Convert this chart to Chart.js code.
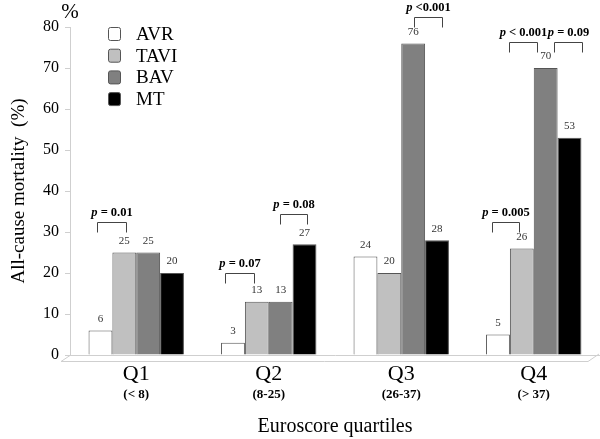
<!DOCTYPE html>
<html lang="en">
<head>
<meta charset="UTF-8">
<title>Mortality by Euroscore quartiles</title>
<script src="https://cdn.jsdelivr.net/npm/chart.js"></script>
<style>
    html, body { margin: 0; padding: 0; background: #fff; }
    #wrap { width: 600px; height: 439px; position: relative; }
</style>
</head>
<body>
<div id="wrap"><canvas id="grafico"></canvas></div>
<script>
// data
const quartis = ['Q1', 'Q2', 'Q3', 'Q4'];
const faixas = ['(< 8)', '(8-25)', '(26-37)', '(> 37)'];
const grupos = ['AVR', 'TAVI', 'BAV', 'MT'];
const avr = [6, 3, 24, 5];
const tavi = [25, 13, 20, 26];
const bav = [25, 13, 76, 70];
const mt = [20, 27, 28, 53];
const yTicks = [0, 10, 20, 30, 40, 50, 60, 70, 80];

// p-value brackets: quartile, bar from, bar to, level (%), text
const pQuartil = [0, 1, 1, 2, 3, 3, 3];
const pDe = [0, 0, 2, 2, 1, 2, 0];
const pAte = [1, 1, 3, 3, 2, 3, 1];
const pNivel = [32.5, 20, 34.5, 82.5, 76.3, 76.3, 32.5];
const pTexto = [' = 0.01', ' = 0.07', ' = 0.08', ' <0.001', ' < 0.001', ' = 0.09', ' = 0.005'];

// estilo
const cores = ['#ffffff', '#c0c0c0', '#808080', '#000000'];
const serif = "'Liberation Serif', 'Times New Roman', serif";
const chaveDx1 = [-3, -8, -1, 1, -13, 8, -6];
const chaveDx2 = [2, -3, 2, 5, -9, 12, -3];

// desenha rotulos, chaves, legenda e piso
const extras = {
    id: 'extras',
    beforeDatasetsDraw(chart) {
        const ctx = chart.ctx;
        const a = chart.chartArea;
        ctx.save();
        ctx.strokeStyle = '#cfcfcf';
        ctx.lineWidth = 1;
        ctx.beginPath();
        ctx.moveTo(a.left, a.bottom + 0.5);
        ctx.lineTo(a.left - 9, a.bottom + 6.5);
        ctx.lineTo(a.right - 12, a.bottom + 6.5);
        ctx.lineTo(a.right - 1, a.bottom - 1);
        ctx.stroke();
        ctx.restore();
    },
    afterDraw(chart) {
        const ctx = chart.ctx;
        const a = chart.chartArea;
        const x = chart.scales.x;
        const y = chart.scales.y;
        ctx.save();

        // valores acima das barras
        ctx.font = '11px ' + serif;
        ctx.fillStyle = '#333';
        ctx.textAlign = 'center';
        ctx.textBaseline = 'bottom';
        chart.data.datasets.forEach((ds, i) => {
            chart.getDatasetMeta(i).data.forEach((bar, j) => {
                ctx.fillText(ds.data[j], bar.x, bar.y - 6);
            });
        });

        // chaves com p
        ctx.strokeStyle = '#444';
        ctx.lineWidth = 1;
        for (let k = 0; k < pQuartil.length; k++) {
            const b1 = chart.getDatasetMeta(pDe[k]).data[pQuartil[k]];
            const b2 = chart.getDatasetMeta(pAte[k]).data[pQuartil[k]];
            const x1 = Math.round(b1.x + chaveDx1[k]) + 0.5;
            const x2 = Math.round(b2.x + chaveDx2[k]) + 0.5;
            const yt = Math.round(y.getPixelForValue(pNivel[k])) + 0.5;
            ctx.beginPath();
            ctx.moveTo(x1, yt + 10);
            ctx.lineTo(x1, yt);
            ctx.lineTo(x2, yt);
            ctx.lineTo(x2, yt + 10);
            ctx.stroke();

            ctx.fillStyle = '#000';
            ctx.font = 'italic bold 12.5px ' + serif;
            const wp = ctx.measureText('p').width;
            ctx.font = 'bold 12.5px ' + serif;
            const wt = ctx.measureText(pTexto[k]).width;
            let xs = (x1 + x2) / 2 - (wp + wt) / 2;
            ctx.textAlign = 'left';
            ctx.textBaseline = 'middle';
            ctx.font = 'italic bold 12.5px ' + serif;
            ctx.fillText('p', xs, yt - 10);
            ctx.font = 'bold 12.5px ' + serif;
            ctx.fillText(pTexto[k], xs + wp, yt - 10);
        }

        // faixas do euroscore
        ctx.font = 'bold 13px ' + serif;
        ctx.textAlign = 'center';
        ctx.textBaseline = 'middle';
        faixas.forEach((f, i) => {
            ctx.fillText(f, x.getPixelForValue(i), a.bottom + 40);
        });

        // simbolo % no topo
        ctx.font = '21px ' + serif;
        ctx.fillText('%', a.left, 12);

        // legenda
        grupos.forEach((g, i) => {
            const ly = 34 + i * 21.7;
            ctx.fillStyle = cores[i];
            ctx.strokeStyle = '#555';
            ctx.beginPath();
            ctx.roundRect(108.5, ly - 6.5, 12, 13, 2);
            ctx.fill();
            ctx.stroke();
            ctx.fillStyle = '#000';
            ctx.font = '19px ' + serif;
            ctx.textAlign = 'left';
            ctx.fillText(g, 136, ly + 1);
        });
        ctx.restore();
    }
};

const conjuntos = [avr, tavi, bav, mt].map((d, i) => ({
    label: grupos[i],
    data: d,
    backgroundColor: cores[i],
    borderColor: '#555',
    borderWidth: 1
}));

new Chart(document.getElementById('grafico'), {
    type: 'bar',
    data: { labels: quartis, datasets: conjuntos },
    options: {
        responsive: true,
        maintainAspectRatio: false,
        animation: false,
        layout: { padding: { top: 27, right: 0, left: 0, bottom: 0 } },
        datasets: { bar: { barPercentage: 1, categoryPercentage: 0.72 } },
        plugins: {
            legend: { display: false },
            tooltip: { enabled: false }
        },
        scales: {
            x: {
                grid: { display: false, drawTicks: false },
                border: { display: true, color: '#cfcfcf' },
                ticks: {
                    color: '#000',
                    font: { family: serif, size: 22 },
                    padding: 6
                },
                title: {
                    display: true,
                    text: 'Euroscore quartiles',
                    color: '#000',
                    font: { family: serif, size: 20 },
                    padding: { top: 16, bottom: 0 }
                },
                afterFit(s) { s.height = 84; }
            },
            y: {
                min: 0,
                max: 80,
                afterBuildTicks(s) { s.ticks = yTicks.map(v => ({ value: v })); },
                grid: { drawOnChartArea: false, tickLength: 5, color: '#cfcfcf' },
                border: { display: true, color: '#cfcfcf' },
                ticks: {
                    color: '#000',
                    font: { family: serif, size: 16 },
                    padding: 6
                },
                title: {
                    display: true,
                    text: 'All-cause mortality  (%)',
                    color: '#000',
                    font: { family: serif, size: 19 },
                    padding: { top: 8, bottom: 0 }
                },
                afterFit(s) { s.width = 70; }
            }
        }
    },
    plugins: [extras]
});
</script>
</body>
</html>
